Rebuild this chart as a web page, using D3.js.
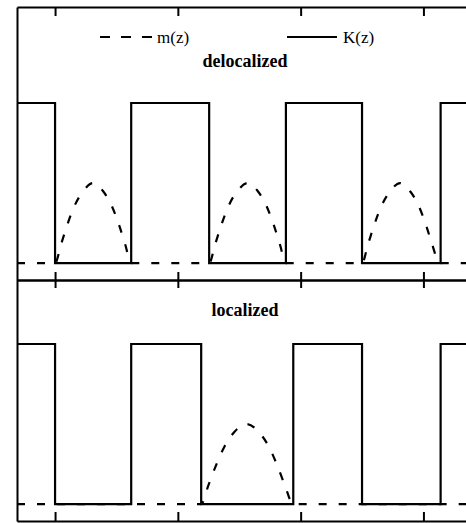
<!DOCTYPE html>
<html>
<head>
<meta charset="utf-8">
<script src="https://cdn.jsdelivr.net/npm/d3@7"></script>
<style>
  body { margin: 0; background: #fff; }
  svg { display: block; }
  text { font-family: 'Liberation Serif', 'Times New Roman', serif; fill: #000; }
</style>
</head>
<body>
<svg id="vis_svg" width="466" height="523"></svg>
<script>
// data
const zTicks = [0, 1, 2, 3];
const zRange = [-0.31, 3.42];

// K(z) steps: value holds from this z until the next z
const kDelocZ = [-0.31, 0, 0.62, 1.255, 1.88, 2.5, 3.14, 3.42];
const kDelocV = [1, 0, 1, 0, 1, 0, 1, 1];
const kLocZ = [-0.31, 0, 0.62, 1.19, 1.94, 2.5, 3.14, 3.42];
const kLocV = [1, 0, 1, 0, 1, 0, 1, 1];

// m(z), delocalized: a hump in every well
const mDelocZ = [-0.31,
  0, 0.05, 0.1, 0.16, 0.23, 0.31, 0.39, 0.46, 0.52, 0.57, 0.62,
  1.255, 1.305, 1.355, 1.415, 1.485, 1.57, 1.65, 1.72, 1.78, 1.83, 1.88,
  2.5, 2.55, 2.6, 2.66, 2.73, 2.81, 2.89, 2.96, 3.02, 3.07, 3.13,
  3.42];
const mDelocV = [0,
  0, 0.12, 0.24, 0.36, 0.45, 0.5, 0.45, 0.36, 0.24, 0.12, 0,
  0, 0.12, 0.24, 0.36, 0.45, 0.5, 0.45, 0.36, 0.24, 0.12, 0,
  0, 0.12, 0.24, 0.36, 0.45, 0.5, 0.45, 0.36, 0.24, 0.12, 0,
  0];

// m(z), localized: a hump only in the wide middle well
const mLocZ = [-0.31, 1.19, 1.25, 1.31, 1.38, 1.46, 1.56, 1.66, 1.74, 1.81, 1.87, 1.94, 3.42];
const mLocV = [0, 0, 0.12, 0.24, 0.36, 0.45, 0.5, 0.45, 0.36, 0.24, 0.12, 0, 0];

const legendLabels = ['m(z)', 'K(z)'];
const panelTitles = ['delocalized', 'localized'];

const svg = d3.select('#vis_svg');

const x = d3.scaleLinear().domain(zRange).range([17, 475]);

// two stacked panels sharing the x axis
const panels = [
  { y: d3.scaleLinear().domain([-0.106, 1.6]).range([280, 7]),
    kz: kDelocZ, kv: kDelocV, mz: mDelocZ, mv: mDelocV,
    title: panelTitles[0], titleY: 67 },
  { y: d3.scaleLinear().domain([-0.106, 1.4]).range([521, 280]),
    kz: kLocZ, kv: kLocV, mz: mLocZ, mv: mLocV,
    title: panelTitles[1], titleY: 316 },
];

const dash = '8,12';

panels.forEach((p) => {
  const mLine = d3.line()
    .x((d) => x(d[0]))
    .y((d) => p.y(d[1]))
    .curve(d3.curveMonotoneX);
  svg.append('path')
    .datum(p.mz.map((z, i) => [z, p.mv[i]]))
    .attr('d', mLine)
    .attr('fill', 'none')
    .attr('stroke', '#000')
    .attr('stroke-width', 2.2)
    .attr('stroke-dasharray', dash);

  const kLine = d3.line()
    .x((d) => x(d[0]))
    .y((d) => p.y(d[1]))
    .curve(d3.curveStepAfter);
  svg.append('path')
    .datum(p.kz.map((z, i) => [z, p.kv[i]]))
    .attr('d', kLine)
    .attr('fill', 'none')
    .attr('stroke', '#000')
    .attr('stroke-width', 2.2);

  svg.append('text')
    .attr('x', 245)
    .attr('y', p.titleY)
    .attr('text-anchor', 'middle')
    .style('font-size', '18px')
    .style('font-weight', 'bold')
    .text(p.title);
});

// frame and ticks
const styleAxis = (g) => {
  g.selectAll('path, line').attr('stroke', '#000').attr('stroke-width', 2);
  g.selectAll('text').remove();
};

svg.append('g').attr('transform', 'translate(0,7)')
  .call(d3.axisBottom(x).tickValues(zTicks).tickSize(9).tickSizeOuter(0))
  .call(styleAxis);
svg.append('g').attr('transform', 'translate(0,280)')
  .call(d3.axisBottom(x).tickValues(zTicks).tickSize(8).tickSizeOuter(0))
  .call(styleAxis);
svg.append('g').attr('transform', 'translate(0,280)')
  .call(d3.axisTop(x).tickValues(zTicks).tickSize(8).tickSizeOuter(0))
  .call(styleAxis);
svg.append('g').attr('transform', 'translate(0,521)')
  .call(d3.axisTop(x).tickValues(zTicks).tickSize(9).tickSizeOuter(0))
  .call(styleAxis);

const yFrame = d3.scaleLinear().domain([0, 1]).range([521, 7]);
svg.append('g').attr('transform', `translate(${x(zRange[0])},0)`)
  .call(d3.axisLeft(yFrame).tickValues([]).tickSizeOuter(0))
  .call(styleAxis);

// legend
const legend = svg.append('g');
legend.append('line')
  .attr('x1', 100).attr('x2', 154).attr('y1', 37).attr('y2', 37)
  .attr('stroke', '#000').attr('stroke-width', 2.2).attr('stroke-dasharray', '10,11');
legend.append('text')
  .attr('x', 157).attr('y', 43)
  .style('font-size', '17px')
  .text(legendLabels[0]);
legend.append('line')
  .attr('x1', 287).attr('x2', 337).attr('y1', 37).attr('y2', 37)
  .attr('stroke', '#000').attr('stroke-width', 2.2);
legend.append('text')
  .attr('x', 343).attr('y', 43)
  .style('font-size', '17px')
  .text(legendLabels[1]);
</script>
</body>
</html>
